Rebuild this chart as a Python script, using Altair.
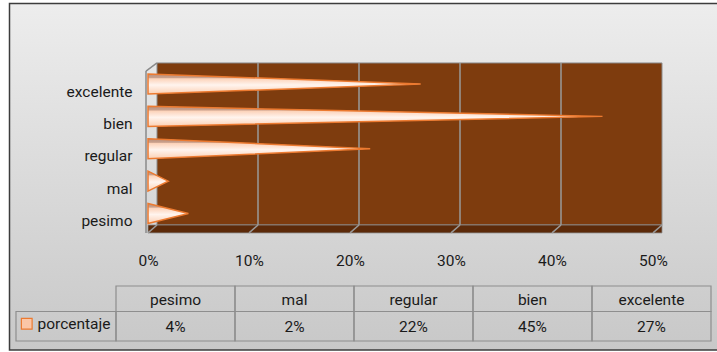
import json
import altair as alt
import pandas as pd

# ---------------- data ----------------
categories = ["pesimo", "mal", "regular", "bien", "excelente"]
values = [4, 2, 22, 45, 27]
value_labels = ["4%", "2%", "22%", "45%", "27%"]
x_ticks = [0, 10, 20, 30, 40, 50]
series_name = "porcentaje"

# ---------------- style ----------------
FONT = "Roboto"
FS = 15.5
TEXT = "#1a1a1a"
GRID = "#9a9a9a"
WALL = "#7e3c0e"
FLOOR = "#5c2a09"
ORANGE = "#ec7a30"
DEPTH = 9          # px, 3-D depth shift of the back wall

# layout in scale units
WALL_TOP, WALL_BOTTOM, FRONT_BOTTOM, SIDE_TOP = 4.65, -0.355, -0.60, 4.40
HALF = 0.31        # half height of a cone in category units

X_SCALE = alt.Scale(domain=[0, 50], range=[148, 653], nice=False, zero=False)
Y_SCALE = alt.Scale(domain=[0, 4], range=[213.5, 84], nice=False, zero=False)

X_AXIS = alt.Axis(values=x_ticks, labelExpr="datum.value + '%'", orient="bottom",
                  offset=-92, grid=False, domain=False, ticks=False, tickSize=0,
                  labelPadding=0, labelBaseline="middle", labelFont=FONT,
                  labelFontSize=FS, labelColor=TEXT, title=None, zindex=2,
                  labelFlush=False, labelOverlap=False)
Y_AXIS = alt.Axis(values=list(range(len(categories))),
                  labelExpr=json.dumps(categories) + "[datum.value]",
                  orient="left", offset=-132, grid=False, domain=False,
                  ticks=False, tickSize=0, labelPadding=0, labelAlign="right",
                  labelBaseline="middle", labelOffset=7, labelFont=FONT,
                  labelFontSize=FS, labelColor=TEXT, title=None, zindex=2,
                  labelOverlap=False)

one = pd.DataFrame({"a": [0]})

def xd(v):
    return alt.XDatum(v, scale=X_SCALE, axis=X_AXIS)

def yd(v):
    return alt.YDatum(v, scale=Y_SCALE, axis=Y_AXIS)

# background frame
bg = alt.Chart(one).mark_rect(
    fill=alt.LinearGradient(gradient="linear",
                            stops=[alt.GradientStop(color="#ededed", offset=0),
                                   alt.GradientStop(color="#c8c8c8", offset=1)],
                            x1=0, x2=0, y1=0, y2=1),
    stroke="#3c3c3c", strokeWidth=1.5
).encode(x=alt.value(9.5), x2=alt.value(760), y=alt.value(3.5), y2=alt.value(350))

# back wall
wall = alt.Chart(one).mark_rect(fill=WALL, stroke="#8c8c8c", strokeWidth=1,
                                xOffset=DEPTH, x2Offset=DEPTH).encode(
    x=xd(0), x2=alt.X2Datum(50), y=yd(WALL_TOP), y2=alt.Y2Datum(WALL_BOTTOM))

grid_df = pd.DataFrame({"g": x_ticks})
wall_grid = alt.Chart(grid_df[(grid_df.g > 0) & (grid_df.g < 50)]).mark_rule(
    xOffset=DEPTH, color=GRID, strokeWidth=1.5).encode(
    x=alt.X("g:Q", scale=X_SCALE, axis=X_AXIS),
    y=yd(WALL_TOP), y2=alt.Y2Datum(WALL_BOTTOM))

floor = alt.Chart(one).mark_rect(fill=FLOOR, stroke="#8c8c8c", strokeWidth=0.8,
                                 x2Offset=DEPTH).encode(
    x=xd(0), x2=alt.X2Datum(50), y=yd(WALL_BOTTOM), y2=alt.Y2Datum(FRONT_BOTTOM))

floor_grid = alt.Chart(grid_df).mark_rule(
    xOffset=DEPTH, x2Offset=0, color=GRID, strokeWidth=1.5).encode(
    x=alt.X("g:Q", scale=X_SCALE, axis=X_AXIS), x2="g:Q",
    y=yd(WALL_BOTTOM), y2=alt.Y2Datum(FRONT_BOTTOM))

side_front = alt.Chart(one).mark_rule(xOffset=-2, color="#8a8a8a", strokeWidth=1.5).encode(
    x=xd(0), y=yd(SIDE_TOP), y2=alt.Y2Datum(FRONT_BOTTOM))
side_top = alt.Chart(one).mark_rule(xOffset=-2, x2Offset=DEPTH, color="#8a8a8a",
                                    strokeWidth=1.5).encode(
    x=xd(0), x2=alt.X2Datum(0), y=yd(SIDE_TOP), y2=alt.Y2Datum(WALL_TOP))

# cones: base at 0% spanning the band, tip at the value
rows = []
for i, (c, v) in enumerate(zip(categories, values)):
    rows.append({"cat": c, "series": series_name, "x": 0, "y": i + HALF, "y2": i - HALF})
    rows.append({"cat": c, "series": series_name, "x": v, "y": i, "y2": i})
cone_df = pd.DataFrame(rows)

cone_enc = dict(
    x=alt.X("x:Q", scale=X_SCALE, axis=X_AXIS),
    y=alt.Y("y:Q", scale=Y_SCALE, axis=Y_AXIS, stack=None),
    y2="y2:Q",
    detail="cat:N",
)

cone_base = alt.Chart(cone_df).mark_area(orient="vertical").encode(
    fill=alt.Fill("series:N",
                  scale=alt.Scale(domain=[series_name], range=["#fbc6a6"]),
                  legend=alt.Legend(title=None, orient="none", legendX=19, legendY=316,
                                    symbolType="square", symbolSize=115,
                                    symbolStrokeColor=ORANGE, symbolStrokeWidth=1.2,
                                    symbolOpacity=1, labelFont=FONT, labelFontSize=FS,
                                    labelColor=TEXT, labelOffset=3, padding=0)),
    **cone_enc)

cone_grad = alt.Chart(cone_df).mark_area(
    orient="vertical",
    fill=alt.LinearGradient(gradient="linear",
                            stops=[alt.GradientStop(color="#b98f7c", offset=0),
                                   alt.GradientStop(color="#c9a08c", offset=0.18),
                                   alt.GradientStop(color="#fcd3ba", offset=0.24),
                                   alt.GradientStop(color="#fff4ee", offset=0.55),
                                   alt.GradientStop(color="#fbd0b4", offset=1)],
                            x1=0, x2=0, y1=0, y2=1),
    stroke=ORANGE, strokeWidth=1.5, strokeJoin="miter"
).encode(**cone_enc)

chart_part = alt.layer(bg, wall, wall_grid, floor, floor_grid, side_front, side_top,
                       cone_base, cone_grad)

# ---------------- data table ----------------
TX = alt.Scale(domain=[-1, 0, len(categories)], range=[16, 116, 711], nice=False, zero=False)
TY = alt.Scale(domain=[0, 1, 2], range=[286, 311.5, 341], nice=False, zero=False)

cell_rows = []
for k in range(len(categories)):
    for r in range(2):
        cell_rows.append({"c0": k, "c1": k + 1, "r0": r, "r1": r + 1})
cell_rows.append({"c0": -1, "c1": 0, "r0": 1, "r1": 2})
cells_df = pd.DataFrame(cell_rows)

cells = alt.Chart(cells_df).mark_rect(fillOpacity=0, stroke="#8e8e8e", strokeWidth=1.2).encode(
    x=alt.X("c0:Q", scale=TX, axis=None), x2="c1:Q",
    y=alt.Y("r0:Q", scale=TY, axis=None), y2="r1:Q")

tab_df = pd.DataFrame({"cat": categories, "lab": value_labels,
                       "cx": [k + 0.5 for k in range(len(categories))]})

head_text = alt.Chart(tab_df).mark_text(font=FONT, fontSize=FS, color=TEXT,
                                        baseline="middle", dy=1).encode(
    x=alt.X("cx:Q", scale=TX, axis=None), y=alt.YDatum(0.5, scale=TY, axis=None),
    text="cat:N")
val_text = alt.Chart(tab_df).mark_text(font=FONT, fontSize=FS, color=TEXT,
                                       baseline="middle", dy=1).encode(
    x=alt.X("cx:Q", scale=TX, axis=None), y=alt.YDatum(1.5, scale=TY, axis=None),
    text="lab:N")

table_part = alt.layer(cells, head_text, val_text)

chart = alt.layer(chart_part, table_part).resolve_scale(
    x="independent", y="independent"
).properties(
    width=717, height=352, padding=0,
    autosize=alt.AutoSizeParams(type="none")
).configure_view(strokeWidth=0)

chart.save("out.html", embed_options={"renderer": "svg", "actions": False})
